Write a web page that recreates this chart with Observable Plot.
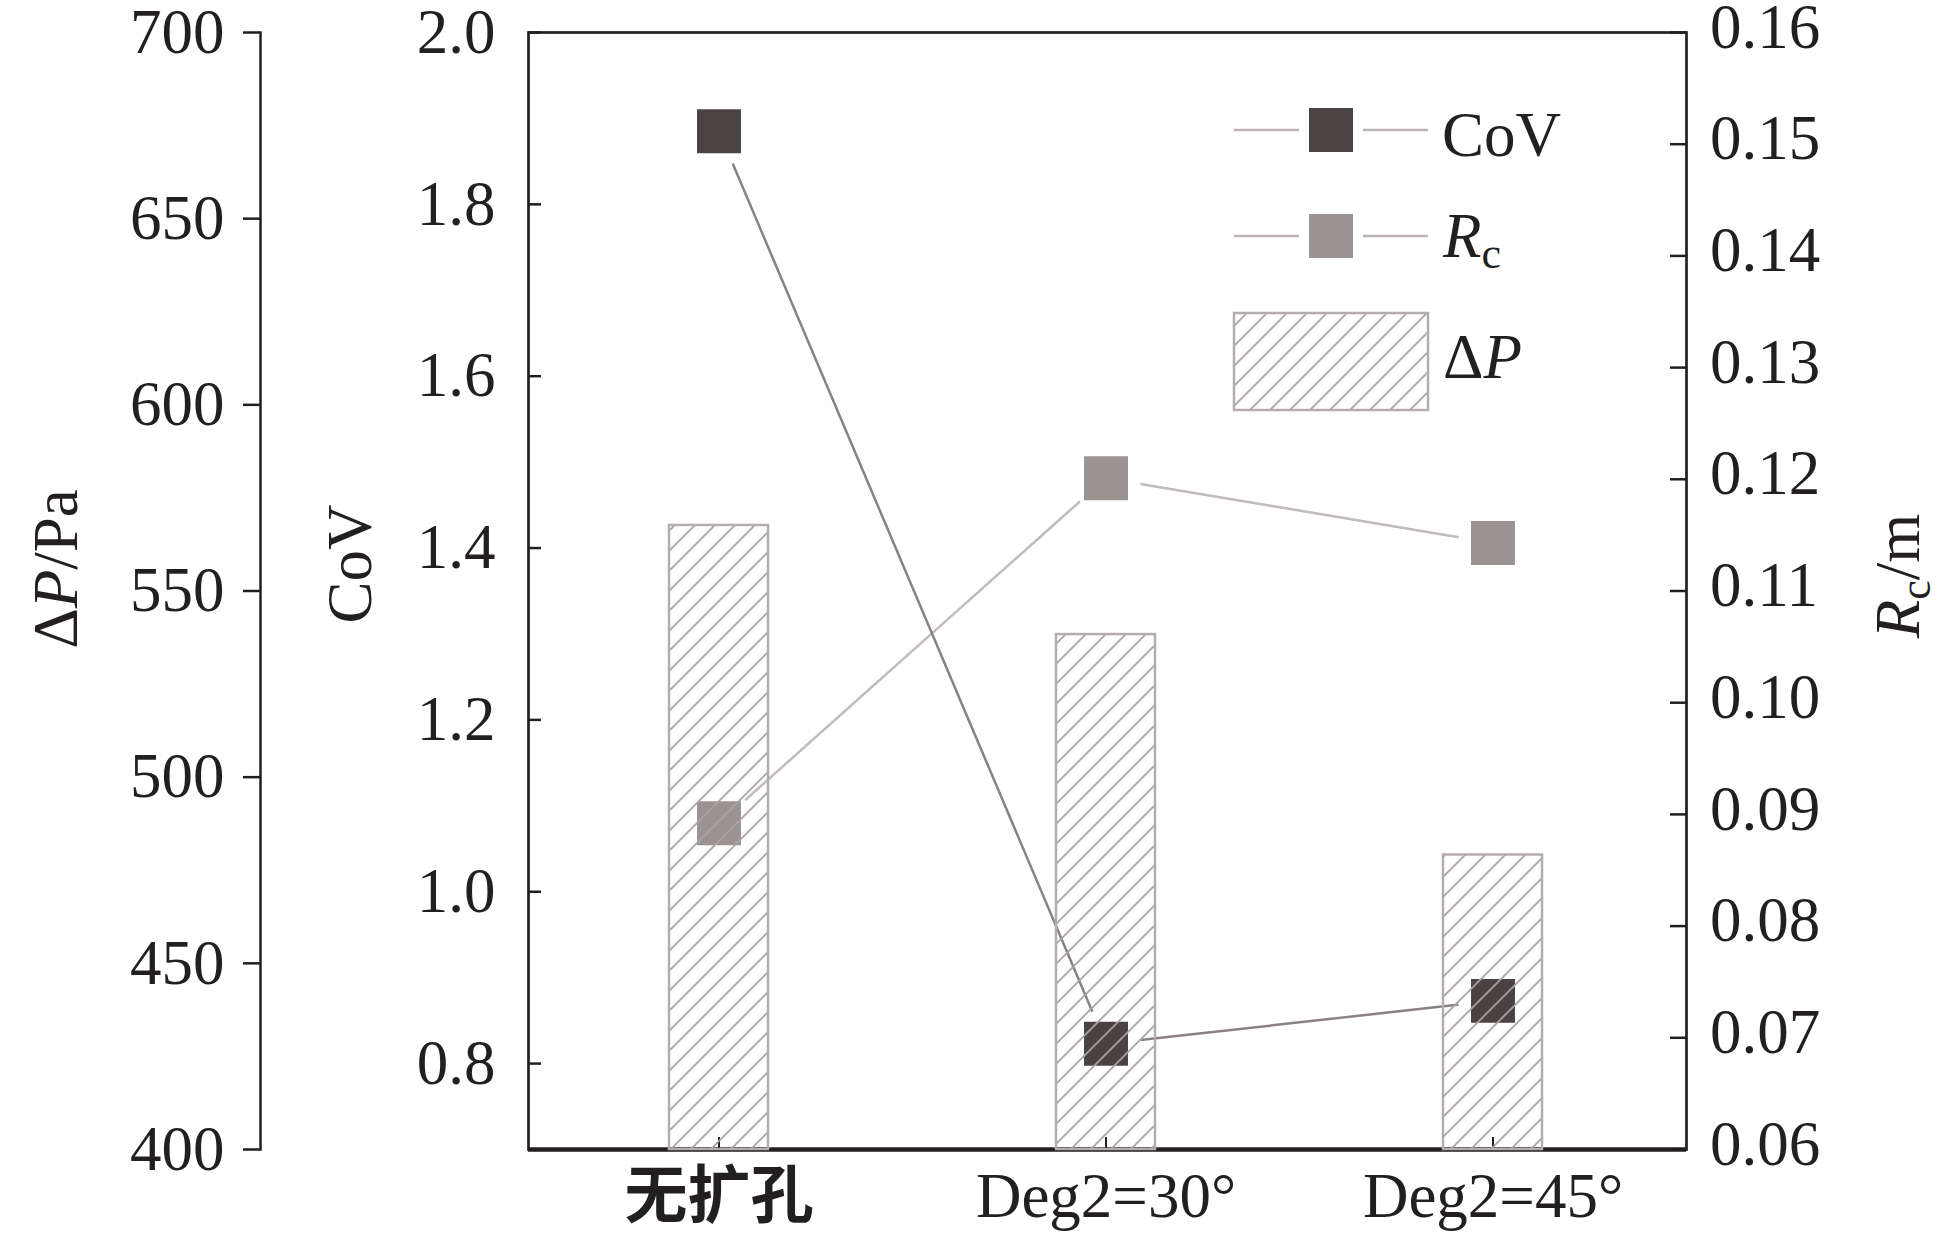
<!DOCTYPE html>
<html>
<head>
<meta charset="utf-8">
<script src="https://cdn.jsdelivr.net/npm/d3@7"></script>
<script src="https://cdn.jsdelivr.net/npm/@observablehq/plot@0.6"></script>
<style>
  body { margin: 0; background: #ffffff; }
  #chart { position: relative; width: 1937px; height: 1247px; }
  #chart svg { position: absolute; left: 0; top: 0; }
</style>
</head>
<body>
<svg width="0" height="0" style="position:absolute">
  <defs>
    <pattern id="hatch" patternUnits="userSpaceOnUse" width="20" height="20">
      <path d="M-5,5 L5,-5 M0,20 L20,0 M15,25 L25,15" stroke="#aaa2a2" stroke-width="1.7" fill="none"/>
    </pattern>
  </defs>
</svg>
<div id="chart"></div>
<script>
// ---- data ----
const categories = ["无扩孔", "Deg2=30°", "Deg2=45°"];
const covValues = [1.885, 0.823, 0.873];
const rcValues = [0.0892, 0.1201, 0.1143];
const dpValues = [567.6, 538.3, 479.1];

const covDomain = [0.7, 2.0];
const rcDomain = [0.06, 0.16];
const dpDomain = [400, 700];
const covTicks = [0.8, 1.0, 1.2, 1.4, 1.6, 1.8, 2.0];
const rcTicks = [0.06, 0.07, 0.08, 0.09, 0.10, 0.11, 0.12, 0.13, 0.14, 0.15, 0.16];
const dpTicks = [400, 450, 500, 550, 600, 650, 700];

const covData = categories.map((c, i) => ({cat: c, value: covValues[i]}));
const rcData = categories.map((c, i) => ({cat: c, value: rcValues[i]}));
const dpData = categories.map((c, i) => ({cat: c, value: dpValues[i]}));

// ---- style ----
const W = 1937, H = 1247;
const ink = "#231f20";
const covFill = "#4b4343", rcFill = "#9b9292";
const covLine = "#8a8181", rcLine = "#c3bbbb";
const barStroke = "#b5adad";
const legendLine = "#bdb5b5";
const fontFamily = "'Liberation Serif', 'Times New Roman', 'Noto Sans CJK SC', serif";

const xScale = {type: "band", domain: categories, paddingInner: 0.744, paddingOuter: 0.3647, align: 0.494};
const common = {
  width: W, height: H,
  marginTop: 32, marginBottom: 98, marginLeft: 528, marginRight: 251,
  style: {background: "transparent", fontFamily, fontSize: "63px", color: ink}
};

// Base layer: frame, CoV axis, x axis
const baseLayer = Plot.plot({
  ...common,
  x: {...xScale},
  y: {domain: covDomain},
  marks: [
    Plot.frame({stroke: ink, strokeWidth: 2.7}),
    Plot.ruleY([covDomain[0]], {stroke: ink, strokeWidth: 4.5}),
    Plot.axisY({anchor: "left", ticks: covTicks, tickFormat: d3.format(".1f"), tickSize: -13, tickPadding: 46, color: ink, strokeWidth: 2.5, label: null}),
    Plot.axisX({anchor: "bottom", tickSize: -12, tickPadding: 35, color: ink, strokeWidth: 2, label: null}),
    Plot.text(["CoV"], {text: d => d, frameAnchor: "left", rotate: -90, dx: -158, dy: -27, lineAnchor: "bottom", textAnchor: "middle", fill: ink})
  ]
});

// Rc layer
const rcLayer = Plot.plot({
  ...common,
  x: {...xScale, axis: null},
  y: {domain: rcDomain},
  marks: [
    Plot.line(rcData, {x: "cat", y: "value", stroke: rcLine, strokeWidth: 2.5}),
    Plot.dot(rcData, {x: "cat", y: "value", r: 35, fill: "white", stroke: "none"}),
    Plot.dot(rcData, {x: "cat", y: "value", symbol: "square", r: 24.8, fill: rcFill, stroke: "none"}),
    Plot.axisY({anchor: "right", ticks: rcTicks, tickSize: -17, tickFormat: () => "", color: ink, strokeWidth: 2.5, label: null}),
    Plot.axisY({anchor: "right", ticks: rcTicks, tickSize: 0, tickPadding: 23.5, dy: -5, tickFormat: d3.format(".2f"), color: ink, label: null}),
    Plot.text(["Rc/m"], {text: d => d, frameAnchor: "right", rotate: -90, dx: 232, dy: -15, lineAnchor: "bottom", textAnchor: "middle", fill: ink})
  ]
});

// CoV layer
const covLayer = Plot.plot({
  ...common,
  x: {...xScale, axis: null},
  y: {domain: covDomain, axis: null},
  marks: [
    Plot.line(covData, {x: "cat", y: "value", stroke: covLine, strokeWidth: 2.5}),
    Plot.dot(covData, {x: "cat", y: "value", r: 35, fill: "white", stroke: "none"}),
    Plot.dot(covData, {x: "cat", y: "value", symbol: "square", r: 24.8, fill: covFill, stroke: "none"})
  ]
});

// ΔP layer (hatched bars on top, ΔP axis on the far left)
const dpLayer = Plot.plot({
  ...common,
  x: {...xScale, axis: null},
  y: {domain: dpDomain},
  marks: [
    Plot.barY(dpData, {x: "cat", y1: dpDomain[0], y2: "value", fill: "url(#hatch)", stroke: barStroke, strokeWidth: 2.5}),
    Plot.frame({anchor: "left", dx: -268, stroke: ink, strokeWidth: 2.5}),
    Plot.axisY({anchor: "left", ticks: dpTicks, dx: -268, tickSize: 17, tickPadding: 19, color: ink, strokeWidth: 2.5, label: null}),
    Plot.text(["ΔP/Pa"], {text: d => d, frameAnchor: "left", rotate: -90, dx: -452, dy: -22, lineAnchor: "bottom", textAnchor: "middle", fill: ink})
  ]
});

const chart = document.getElementById("chart");
[baseLayer, rcLayer, covLayer, dpLayer].forEach(s => chart.appendChild(s));

// ---- legend ----
const leg = d3.create("svg").attr("width", W).attr("height", H)
  .style("font-family", fontFamily).style("font-size", "63px");
function legendLineItem(cy, fill) {
  leg.append("line").attr("x1", 1234).attr("x2", 1299).attr("y1", cy).attr("y2", cy).attr("stroke", legendLine).attr("stroke-width", 2.5);
  leg.append("line").attr("x1", 1363).attr("x2", 1428).attr("y1", cy).attr("y2", cy).attr("stroke", legendLine).attr("stroke-width", 2.5);
  leg.append("rect").attr("x", 1309).attr("y", cy - 22).attr("width", 44).attr("height", 44).attr("fill", fill);
}
legendLineItem(130, covFill);
leg.append("text").attr("x", 1442).attr("y", 156).attr("fill", ink).text("CoV");
legendLineItem(236, rcFill);
leg.append("text").attr("x", 1443).attr("y", 257).attr("fill", ink).text("Rc");
leg.append("rect").attr("x", 1234).attr("y", 313).attr("width", 194).attr("height", 97)
  .attr("fill", "url(#hatch)").attr("stroke", barStroke).attr("stroke-width", 2.5);
leg.append("text").attr("x", 1443).attr("y", 378).attr("fill", ink).text("ΔP");
chart.appendChild(leg.node());

// ---- rich text: italics, subscripts, bold CJK ----
const rich = {
  "ΔP/Pa": [["Δ"], ["P", "italic"], ["/Pa"]],
  "Rc/m": [["R", "italic"], ["c", "sub"], ["/m", "unsub"]],
  "Rc": [["R", "italic"], ["c", "sub"]],
  "ΔP": [["Δ"], ["P", "italic"]]
};
chart.querySelectorAll("text").forEach(t => {
  if (t.textContent === categories[0]) { t.setAttribute("font-weight", "bold"); return; }
  const parts = rich[t.textContent];
  if (!parts) return;
  t.textContent = "";
  parts.forEach(([s, kind]) => {
    const ts = document.createElementNS("http://www.w3.org/2000/svg", "tspan");
    ts.textContent = s;
    if (kind === "italic") ts.setAttribute("font-style", "italic");
    if (kind === "sub") { ts.setAttribute("font-size", "44px"); ts.setAttribute("dy", "11"); }
    if (kind === "unsub") { ts.setAttribute("dy", "-11"); }
    t.appendChild(ts);
  });
});
</script>
</body>
</html>
